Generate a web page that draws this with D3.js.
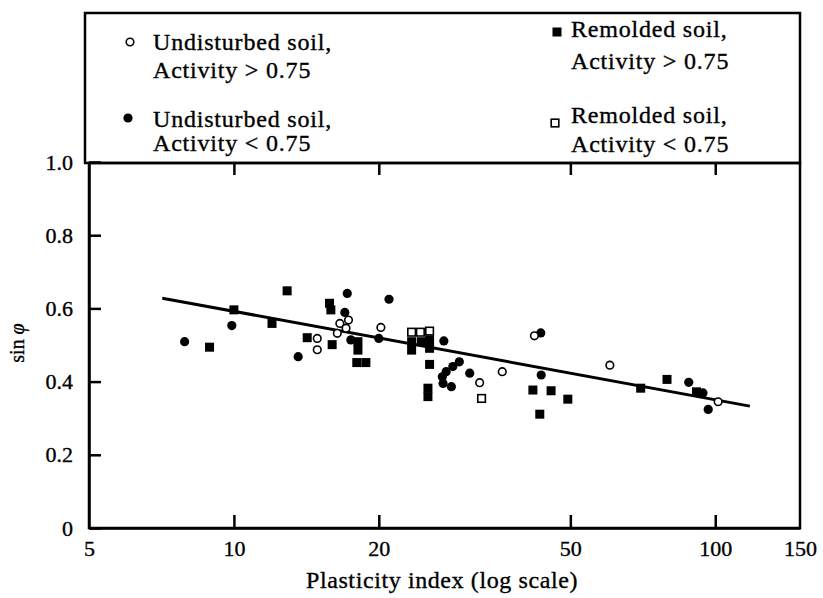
<!DOCTYPE html>
<html><head><meta charset="utf-8">
<script src="https://cdn.jsdelivr.net/npm/d3@7"></script>
<style>
body{margin:0;background:#fff}
svg{display:block}
text{font-family:"Liberation Serif","Times New Roman",serif;fill:#000;stroke:#000;stroke-width:0.35px}
</style>
</head><body>
<svg id="c" width="823" height="598"></svg>
<script>
// ---------- data ----------
const xTicks = [5, 10, 20, 50, 100, 150];
const yTicks = [0, 0.2, 0.4, 0.6, 0.8, 1.0];
const yTickLabels = ["0", "0.2", "0.4", "0.6", "0.8", "1.0"];

// Undisturbed soil, Activity > 0.75 (open circles)
const undistHighPI  = [14.9, 14.9, 16.6, 17.3, 16.4, 17.1, 20.2, 32.4, 36.1, 42.1, 60.4, 101.4];
const undistHighSin = [0.518, 0.487, 0.559, 0.568, 0.532, 0.546, 0.548, 0.397, 0.427, 0.525, 0.445, 0.345];

// Undisturbed soil, Activity < 0.75 (filled circles)
const undistLowPI  = [7.9, 9.9, 13.6, 17.2, 17.0, 17.5, 21.0, 20.0, 27.3, 29.4, 28.5, 27.6, 27.1, 27.2, 28.3, 30.9, 43.4, 43.5, 88.1, 94.3, 96.7];
const undistLowSin = [0.509, 0.553, 0.468, 0.641, 0.589, 0.514, 0.625, 0.518, 0.511, 0.454, 0.441, 0.427, 0.413, 0.395, 0.386, 0.423, 0.533, 0.418, 0.398, 0.369, 0.324];

// Remolded soil, Activity > 0.75 (filled squares)
const remHighPI  = [8.9, 10.0, 12.9, 12.0, 14.2, 16.0, 15.8, 15.9, 18.1, 18.1, 18.0, 18.8, 23.4, 23.4, 24.5, 25.5, 25.5, 25.5, 25.3, 25.3, 41.8, 45.6, 49.4, 43.2, 70.0, 79.4, 91.4];
const remHighSin = [0.494, 0.596, 0.648, 0.559, 0.520, 0.501, 0.614, 0.596, 0.509, 0.486, 0.452, 0.452, 0.509, 0.486, 0.509, 0.514, 0.491, 0.447, 0.382, 0.359, 0.377, 0.375, 0.352, 0.311, 0.382, 0.406, 0.372];

// Remolded soil, Activity < 0.75 (open squares)
const remLowPI  = [23.4, 24.4, 25.5, 32.7];
const remLowSin = [0.535, 0.535, 0.538, 0.354];

// Trend line
const trendPI  = [7.1, 118];
const trendSin = [0.628, 0.333];

const legendLine1 = ["Undisturbed soil,", "Undisturbed soil,", "Remolded soil,", "Remolded soil,"];
const legendLine2 = ["Activity > 0.75", "Activity < 0.75", "Activity > 0.75", "Activity < 0.75"];
const legendSymbols = ["openCircle", "filledCircle", "filledSquare", "openSquare"];

const xTitle = "Plasticity index (log scale)";

// ---------- layout ----------
const svg = d3.select("#c");
const L = 89, R = 800, T = 163, B = 528;
const x = d3.scaleLog().domain([5, 150]).range([L, R]);
const y = d3.scaleLinear().domain([0, 1]).range([B, 162]);

// legend box
svg.append("rect").attr("x", 85).attr("y", 13).attr("width", R - 85).attr("height", T - 13)
  .attr("fill", "none").attr("stroke", "#000").attr("stroke-width", 2.5);

// plot frame
svg.append("rect").attr("x", L).attr("y", T).attr("width", R - L).attr("height", B - T)
  .attr("fill", "none").attr("stroke", "#000").attr("stroke-width", 2.5);

// axes
const inner = [10, 20, 50, 100];
const gx = svg.append("g").attr("transform", `translate(0,${B})`)
  .call(d3.axisBottom(x).tickValues(xTicks).tickFormat(d3.format("d")).tickSizeInner(0).tickSizeOuter(0).tickPadding(12));
gx.select(".domain").attr("stroke-width", 2.5);
gx.selectAll("text").attr("font-size", 22).attr("font-family", "Liberation Serif");

const gxt = svg.append("g").attr("transform", `translate(0,${B})`)
  .call(d3.axisBottom(x).tickValues(inner).tickFormat("").tickSizeInner(-13).tickSizeOuter(0));
gxt.select(".domain").remove();
gxt.selectAll("line").attr("stroke-width", 2.5);

const gtop = svg.append("g").attr("transform", `translate(0,${T})`)
  .call(d3.axisTop(x).tickValues(inner).tickFormat("").tickSizeInner(-12).tickSizeOuter(0));
gtop.select(".domain").remove();
gtop.selectAll("line").attr("stroke-width", 2.5);

const gy = svg.append("g").attr("transform", `translate(${L},0)`)
  .call(d3.axisLeft(y).tickValues(yTicks).tickFormat((d, i) => yTickLabels[i]).tickSizeInner(-12).tickSizeOuter(0).tickPadding(16));
gy.select(".domain").attr("stroke-width", 2.5);
gy.selectAll("line").attr("stroke-width", 2.5);
gy.selectAll("text").attr("font-size", 22).attr("font-family", "Liberation Serif");

// axis titles
svg.append("text").attr("x", 442).attr("y", 588).attr("text-anchor", "middle")
  .attr("font-size", 24).style("letter-spacing", "0.6px").text(xTitle);

const yl = svg.append("text").attr("transform", "translate(24,343) rotate(-90)").attr("text-anchor", "middle").attr("font-size", 20);
yl.append("tspan").text("sin ");
yl.append("tspan").attr("font-style", "italic").text("\u03C6");

// trend line
svg.append("path")
  .datum(trendPI.map((d, i) => [d, trendSin[i]]))
  .attr("d", d3.line().x(d => x(d[0])).y(d => y(d[1])))
  .attr("fill", "none").attr("stroke", "#000").attr("stroke-width", 3);

// markers
function drawSym(g, type, cx, cy) {
  if (type === "filledCircle") g.append("circle").attr("cx", cx).attr("cy", cy).attr("r", 4.6).attr("fill", "#000");
  else if (type === "openCircle") g.append("circle").attr("cx", cx).attr("cy", cy).attr("r", 3.8).attr("fill", "#fff").attr("stroke", "#000").attr("stroke-width", 1.6);
  else if (type === "filledSquare") g.append("rect").attr("x", cx - 4.5).attr("y", cy - 4.5).attr("width", 9).attr("height", 9).attr("fill", "#000");
  else g.append("rect").attr("x", cx - 3.8).attr("y", cy - 3.8).attr("width", 7.6).attr("height", 7.6).attr("fill", "#fff").attr("stroke", "#000").attr("stroke-width", 1.6);
}
const pts = svg.append("g");
const sets = [
  ["filledSquare", remHighPI, remHighSin],
  ["filledCircle", undistLowPI, undistLowSin],
  ["openCircle", undistHighPI, undistHighSin],
  ["openSquare", remLowPI, remLowSin]
];
sets.forEach(([t, xs, ys]) => xs.forEach((v, i) => drawSym(pts, t, x(v), y(ys[i]))));

// legend
const legPos = [[130, 42, 153, 50, 78], [128, 118, 153, 127, 151], [557, 32, 571, 37, 69], [555, 123, 571, 123, 152]];
const lg = svg.append("g");
legendSymbols.forEach((s, i) => {
  const p = legPos[i];
  drawSym(lg, s, p[0], p[1]);
  lg.append("text").attr("x", p[2]).attr("y", p[3]).attr("font-size", 24).style("letter-spacing", "0.8px").text(legendLine1[i]);
  lg.append("text").attr("x", p[2]).attr("y", p[4]).attr("font-size", 24).style("letter-spacing", "0.8px").text(legendLine2[i]);
});
</script>
</body></html>
